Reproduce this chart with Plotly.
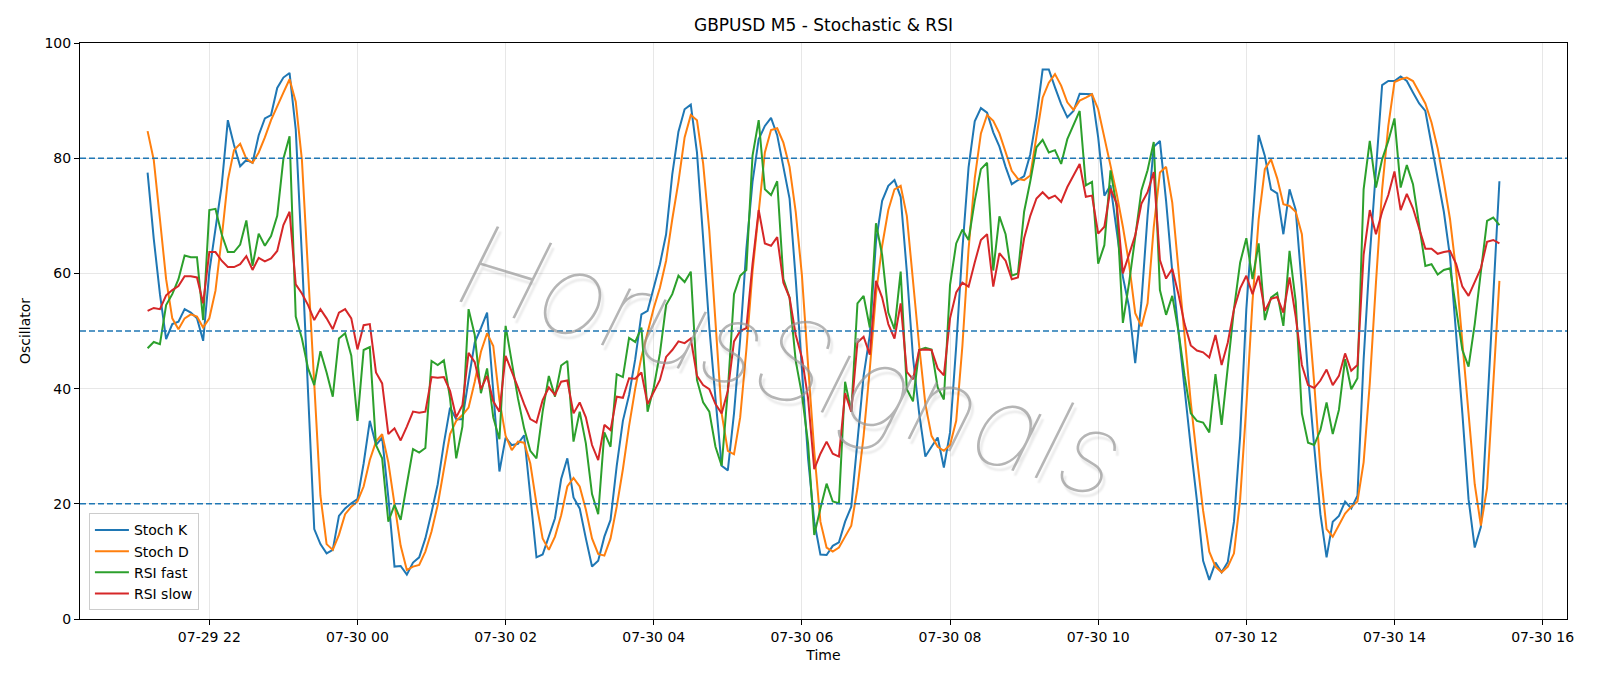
import pandas as pd
import plotly.graph_objects as go

start_time = "2025-07-29 21:10"
n_points = 220

stoch_k = [
    77.5, 66, 56.4, 48.6, 51.2, 51.6, 53.8, 53.2, 52.2, 48.3,
    60.3, 67.4, 75.2, 86.6, 82.3, 78.6, 79.7, 79.2, 84, 86.9,
    87.5, 92.2, 94, 94.8, 85, 63, 39, 15.6, 13, 11.4,
    12, 17.9, 19.2, 20.1, 20.8, 27, 34.4, 30.2, 31.5, 21.1,
    9.1, 9.2, 7.7, 9.8, 10.7, 14, 18.5, 23.4, 30.5, 36.7,
    34.7, 34.7, 41.5, 48, 50.5, 53.2, 39.5, 25.6, 31.5, 30.2,
    30.4, 31.9, 21.4, 10.7, 11.2, 14.3, 17.5, 24.3, 27.9, 21.1,
    19.2, 14, 9.1, 10.1, 14.3, 17.2, 26.6, 34.4, 38.9, 45.1,
    52.9, 53.5, 57.7, 61.6, 66.8, 77.2, 84.6, 88.5, 89.3, 81,
    66.1, 50.6, 38.3, 26.6, 25.8, 35.7, 48.6, 64.2, 75.9, 83.3,
    85.6, 87, 84, 78.5, 73, 59, 42.8, 27.9, 16.9, 11.2,
    11.1, 12.7, 13.3, 16.9, 19.5, 30.5, 42.2, 49.3, 65.5, 72.6,
    75.2, 76.2, 73.3, 60.3, 45.4, 35.7, 28.2, 29.9, 31.5, 26.3,
    32.4, 47.4, 64.2, 78.4, 86.4, 88.7, 87.9, 84.5, 82, 78.5,
    75.5, 76.2, 76.9, 80.7, 87.1, 95.4, 95.4, 92.3, 89.4, 87.1,
    88.2, 91.2, 91.1, 91.1, 83.6, 73.5, 75.3, 67.5, 59.4, 54.2,
    44.4, 55, 70, 82, 83, 72.6, 60.3, 50, 39.6, 29.9,
    20.5, 10.1, 6.8, 9.8, 8.1, 9.9, 16.9, 31.8, 53.8, 69.4,
    84, 80.4, 74.6, 73.9, 66.8, 74.6, 71, 57.7, 42.2, 29.9,
    18.2, 10.7, 16.9, 17.9, 20.4, 19.2, 21.4, 45, 63, 78,
    92.7, 93.4, 93.4, 94.2, 93.4, 91.4, 89.5, 88.2, 82.3, 75.9,
    70.7, 62.9, 50, 35.7, 20.8, 12.4, 16, 36, 57, 76,
]

stoch_d = [
    84.7, 79.7, 69.4, 59, 52.2, 50.3, 52.2, 52.9, 52.5, 50.6,
    52.2, 57, 66.1, 76.2, 81.4, 82.5, 79.9, 79.2, 81, 83.6,
    86.6, 89.1, 91.4, 93.7, 89.8, 79.7, 60.3, 41, 21.4, 13,
    12, 14.6, 18.2, 19.5, 20.4, 23, 27.6, 30.8, 32.1, 27.2,
    20.2, 12.7, 8.5, 9.1, 9.4, 11.7, 15.2, 19.8, 26, 32.1,
    34.4, 35.4, 36.7, 41.2, 46.4, 49.6, 47.4, 38, 31.8, 29.3,
    30.8, 30.6, 27, 20, 14, 12, 14.3, 18, 23, 24.5,
    23, 19, 14, 11.3, 11, 14, 19.5, 26, 33.5, 40,
    45.5, 50, 54, 57.5, 62.2, 69.4, 75.9, 83.6, 87.5, 86.6,
    79.1, 67.4, 51.2, 35.7, 29.2, 28.6, 35, 46.7, 60.3, 71.3,
    81, 84.9, 85.2, 82.7, 78.5, 70.7, 59.7, 44.1, 29.2, 16.9,
    12.4, 11.7, 12.4, 14.3, 16.2, 22.7, 31.8, 43.4, 56.4, 64.8,
    71, 74.6, 75.2, 70, 58.4, 47.4, 37.3, 31.8, 29.9, 29.2,
    30.2, 34.4, 47.4, 64.2, 76.5, 84.3, 87.5, 86.5, 84.3, 81,
    77.8, 76.4, 76.2, 77, 83.6, 90.5, 93.1, 94.6, 92.6, 89.7,
    88.4, 90, 90.5, 91.1, 88.5, 83.6, 78.2, 73.8, 68.1, 61.7,
    53.1, 50.8, 54.8, 68, 77.5, 78.5, 72.3, 60.3, 48.7, 37.6,
    27.9, 18.8, 11.7, 9.1, 8.1, 9.1, 11.4, 20.8, 37, 55.1,
    69.4, 78.1, 79.8, 76.5, 72, 71.7, 70.7, 66.8, 53.8, 40.9,
    26, 15.6, 14.3, 16.2, 18.3, 19.5, 20.4, 27.2, 40.9, 58.4,
    74.6, 85.6, 93.2, 93.7, 94, 93.4, 91.4, 89.5, 86.2, 81.7,
    75.9, 69.4, 60.3, 48.7, 35.7, 23.4, 16.2, 22.7, 40.2, 58.7,
]

rsi_fast = [
    47, 48.1, 47.7, 54.5, 56.4, 59, 63.1, 62.8, 62.8, 51.9,
    71, 71.2, 66.8, 63.7, 63.7, 65, 69.2, 61.3, 66.9, 64.8,
    66.5, 70, 79.9, 83.8, 52.5, 48.7, 43.5, 40.6, 46.5, 42.8,
    38.6, 48.7, 49.6, 45.7, 34.4, 46.7, 47.2, 30.2, 27.9, 16.9,
    19.8, 17.2, 23.4, 29.5, 28.9, 29.7, 44.8, 44.1, 44.9, 38.3,
    27.9, 33.4, 53.8, 49.3, 39.2, 43.5, 35, 31.2, 50.9, 44.8,
    38.3, 33.1, 29.2, 27.9, 36, 42.2, 38.6, 44, 44.8, 30.8,
    36, 30.5, 21.7, 18.2, 32.4, 29.9, 42.5, 42, 48.8, 48.1,
    50.6, 36, 40.2, 46.1, 54.5, 56.4, 59.6, 58.5, 60.3, 41.5,
    37.6, 36, 29.9, 26.6, 39.6, 56.4, 59.6, 60.6, 80.4, 86.6,
    74.6, 73.6, 76, 59, 55.8, 44.8, 39, 30.5, 14.6, 19.2,
    23.5, 20.4, 20.1, 41.2, 36, 54.8, 56.1, 50.6, 68.7, 63.2,
    53.2, 50.3, 60.3, 39.9, 37.8, 46.7, 47.1, 46.8, 40.2, 38.1,
    58, 65.2, 67.6, 65.8, 72.6, 78.1, 79.2, 60.5, 69.9, 66.8,
    59.6, 60, 70.7, 76, 81.9, 83.2, 81, 81.4, 79, 83.3,
    85.9, 88.2, 75.3, 75.9, 61.7, 64.9, 77.9, 71.5, 51.4, 58.3,
    66.3, 74.4, 77.9, 82.8, 57.1, 52.8, 56.1, 50, 42.2, 35.7,
    34.4, 34.1, 32.4, 42.5, 33.7, 43.5, 53.8, 61.9, 66.1, 59,
    65.2, 51.9, 55.8, 56.6, 50.9, 63.9, 55.1, 35.7, 30.6, 30.2,
    32.8, 37.6, 32.1, 36.3, 45.1, 39.9, 41.8, 74.6, 83, 74.9,
    79.8, 83, 86.9, 74.9, 78.8, 75.5, 68.1, 61.3, 61.6, 59.8,
    60.6, 60.9, 53.8, 46.7, 43.8, 51.2, 60.3, 69.1, 69.7, 68.4,
]

rsi_slow = [
    53.5, 54, 53.8, 56.2, 57.1, 57.8, 59.5, 59.5, 59.3, 54.8,
    63.7, 63.7, 62.2, 61.1, 61.1, 61.6, 63, 60.6, 62.7, 62.1,
    62.6, 63.9, 68.4, 70.7, 58.1, 56.5, 54.5, 51.9, 53.8, 52.2,
    50.3, 53.2, 53.8, 52.2, 46.8, 51, 51.2, 42.8, 40.9, 32.1,
    33.1, 31, 33.4, 36, 35.8, 36, 42, 41.9, 42, 39.6,
    35, 37.1, 46.2, 44.6, 39.9, 42.2, 37.8, 36, 45.7, 43.1,
    40.2, 37.3, 34.7, 34.1, 38, 40.2, 38.9, 41.2, 41.4, 35.7,
    37.6, 35, 30.2, 27.6, 33.7, 32.8, 38.6, 38.4, 41.8, 41.7,
    42.8, 37.3, 39.5, 41.5, 45.5, 46.7, 48.2, 47.9, 48.7, 42.2,
    40.6, 39.9, 37.3, 35.7, 39.6, 48.2, 50, 50.5, 61.6, 71,
    65.2, 64.8, 66.3, 58.4, 55.8, 49.3, 45.4, 38.3, 26, 28.7,
    30.8, 28.7, 28.2, 39.2, 36, 48, 49, 45.9, 58.7, 55.8,
    51.2, 48.7, 54.8, 42.9, 41.6, 46.7, 46.8, 46.7, 43.5, 42.3,
    52.2, 56.7, 58.4, 57.7, 61.9, 65.8, 66.8, 57.7, 63.5, 62.2,
    59, 59.3, 66.1, 70, 73, 74.1, 73, 73.5, 72.4, 75,
    77, 79, 73.3, 73.5, 66.9, 68.1, 74.7, 72.1, 60, 63.5,
    66.6, 72.1, 74.1, 77.6, 62.3, 59.1, 60.8, 56.4, 51.2, 47.5,
    46.6, 46.3, 45.4, 49.3, 44.1, 48, 53.8, 57.4, 59.6, 56.4,
    59.6, 53.5, 55.6, 55.9, 53.2, 59.3, 52.5, 44.1, 40.6, 40.1,
    41.4, 43.3, 40.6, 42.2, 46.1, 43.1, 44.1, 63.2, 71, 66.8,
    70.7, 73.6, 77.7, 71, 73.8, 71.3, 67.8, 64.3, 64.3, 63.4,
    63.7, 63.9, 61.6, 57.7, 56.1, 58.4, 60.9, 65.5, 65.8, 65.2,
]

series_names = ["Stoch K", "Stoch D", "RSI fast", "RSI slow"]
series_colors = ["#1f77b4", "#ff7f0e", "#2ca02c", "#d62728"]
level_values = [20, 50, 80]
x_tick_values = ["2025-07-29 22:00", "2025-07-30 00:00", "2025-07-30 02:00", "2025-07-30 04:00",
                 "2025-07-30 06:00", "2025-07-30 08:00", "2025-07-30 10:00", "2025-07-30 12:00",
                 "2025-07-30 14:00", "2025-07-30 16:00"]
x_tick_labels = ["07-29 22", "07-30 00", "07-30 02", "07-30 04", "07-30 06",
                 "07-30 08", "07-30 10", "07-30 12", "07-30 14", "07-30 16"]
y_tick_values = [0, 20, 40, 60, 80, 100]
watermark_text = "HorusSignals"

times = pd.date_range(start=start_time, periods=n_points, freq="5min")
span = times[-1] - times[0]
x_range = [times[0] - span * 0.05, times[-1] + span * 0.05]

FONT = "DejaVu Sans"
fig = go.Figure()
for name, color, vals in zip(series_names, series_colors, [stoch_k, stoch_d, rsi_fast, rsi_slow]):
    fig.add_trace(go.Scatter(x=times, y=vals, mode="lines", name=name,
                             line=dict(color=color, width=2)))

for lv in level_values:
    fig.add_shape(type="line", xref="paper", x0=0, x1=1, yref="y", y0=lv, y1=lv,
                  line=dict(color="#1f77b4", width=1.4, dash="6px,3px"), layer="above")

fig.add_annotation(text=watermark_text, xref="paper", yref="paper", x=0.478, y=0.45,
                   showarrow=False, textangle=17,
                   font=dict(family="Inter", size=114, weight=100, style="italic",
                             color="rgba(150,150,150,0.7)",
                             shadow="4px 4px 2px rgba(0,0,0,0.12)"))

fig.update_layout(
    width=1600, height=686,
    margin=dict(l=80, r=33, t=43, b=67),
    paper_bgcolor="white", plot_bgcolor="white",
    font=dict(family=FONT, size=14, color="black"),
    title=dict(text="GBPUSD M5 - Stochastic & RSI", x=0.5, xref="paper", y=1 - 25.5 / 686,
               yref="container", yanchor="middle", xanchor="center",
               font=dict(family=FONT, size=17, color="black")),
    showlegend=True,
    legend=dict(x=0.006, y=0.015, xanchor="left", yanchor="bottom",
                bgcolor="rgba(255,255,255,0.8)", bordercolor="#cccccc", borderwidth=1,
                font=dict(family=FONT, size=14), tracegroupgap=0, itemwidth=34),
)
fig.update_xaxes(range=x_range, tickvals=pd.to_datetime(x_tick_values), ticktext=x_tick_labels,
                 showgrid=True, gridcolor="rgba(176,176,176,0.3)", gridwidth=1,
                 showline=True, linecolor="black", linewidth=1.1, mirror=True,
                 ticks="outside", ticklen=5, tickwidth=1.1, tickcolor="black",
                 title=dict(text="Time", font=dict(size=14), standoff=6), zeroline=False)
fig.update_yaxes(range=[0, 100], tickvals=y_tick_values,
                 showgrid=True, gridcolor="rgba(176,176,176,0.3)", gridwidth=1,
                 showline=True, linecolor="black", linewidth=1.1, mirror=True,
                 ticks="outside", ticklen=5, tickwidth=1.1, tickcolor="black",
                 title=dict(text="Oscillator", font=dict(size=14), standoff=10), zeroline=False)

fig.write_html("out.html")
